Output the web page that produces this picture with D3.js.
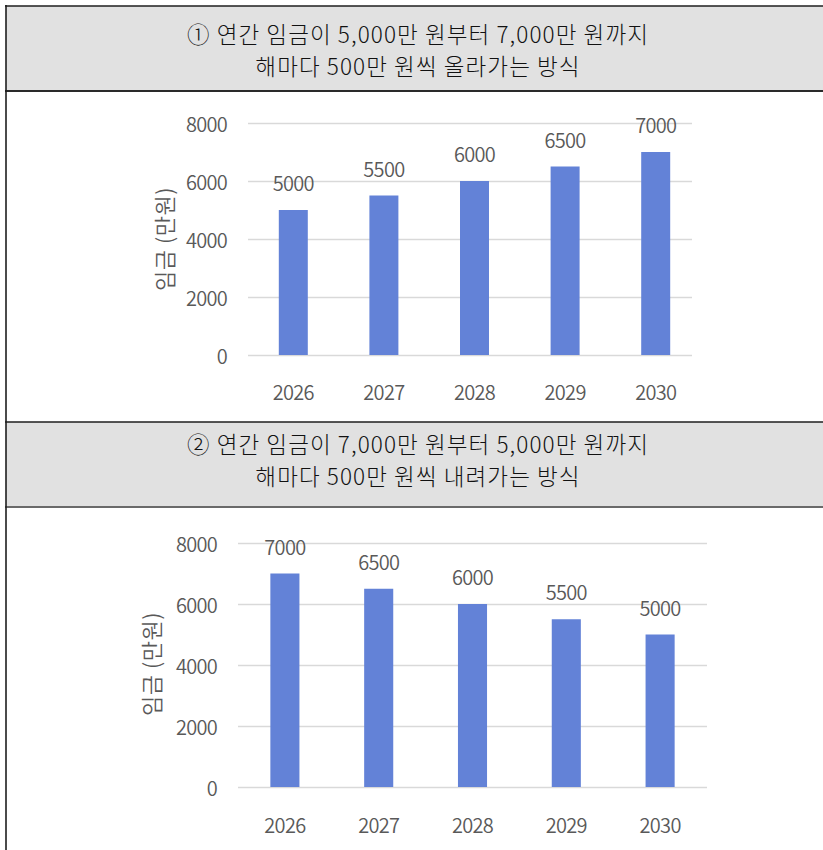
<!DOCTYPE html>
<html>
<head>
<meta charset="utf-8">
<script src="https://cdn.jsdelivr.net/npm/d3@7"></script>
<style>
  html, body { margin: 0; padding: 0; background: #fff; }
  svg { display: block; }
</style>
</head>
<body>
<svg id="chart" width="823" height="850"></svg>
<script>
// ---- data ----
const years = ["2026", "2027", "2028", "2029", "2030"];
const wagesRising = [5000, 5500, 6000, 6500, 7000];
const wagesFalling = [7000, 6500, 6000, 5500, 5000];
const yTicks = [0, 2000, 4000, 6000, 8000];
const yMax = 8000;
const yAxisTitle = "임금 (만원)";
const title1 = ["① 연간 임금이 5,000만 원부터 7,000만 원까지", "해마다 500만 원씩 올라가는 방식"];
const title2 = ["② 연간 임금이 7,000만 원부터 5,000만 원까지", "해마다 500만 원씩 내려가는 방식"];

// ---- styles ----
const barColor = "#6382d7";
const gridColor = "#d9d9d9";
const textColor = "#595959";
const headFill = "#e1e1e1";
const chartFont = "'Noto Sans CJK KR', 'Noto Sans', sans-serif";

const svg = d3.select("#chart");

function header(y0, y1, lines, baselines, bottomStroke) {
  const g = svg.append("g");
  g.append("rect").attr("x", 6).attr("y", y0).attr("width", 823 - 6).attr("height", y1 - y0)
    .attr("fill", headFill);
  g.append("line").attr("x1", 5).attr("x2", 823).attr("y1", y0).attr("y2", y0)
    .attr("stroke", "#1e1e1e").attr("stroke-width", 1.6);
  g.append("line").attr("x1", 5).attr("x2", 823).attr("y1", y1).attr("y2", y1)
    .attr("stroke", bottomStroke).attr("stroke-width", 1.8);
  lines.forEach((t, i) => {
    g.append("text").attr("x", 418).attr("y", baselines[i])
      .attr("text-anchor", "middle")
      .attr("font-family", chartFont)
      .attr("font-size", 22.5)
      .attr("font-weight", 300)
      .attr("letter-spacing", "1.1px")
      .attr("fill", "#111")
      .text(t);
  });
}

function barChart(opts) {
  const { values, xr, gridX, yr, labelX, titleX, titleY, xLabelY, pad } = opts;
  const x = d3.scaleBand().domain(years).range(xr).paddingInner(pad).paddingOuter(pad / 2);
  const y = d3.scaleLinear().domain([0, yMax]).range(yr);
  const g = svg.append("g");

  // y axis with gridlines
  const yAxis = d3.axisLeft(y).tickValues(yTicks).tickFormat(d3.format("d"))
    .tickSizeInner(-(gridX[1] - gridX[0])).tickSizeOuter(0).tickPadding(gridX[0] - labelX);
  const ya = g.append("g").attr("transform", `translate(${gridX[0]},0)`).call(yAxis);
  ya.select(".domain").remove();
  ya.selectAll(".tick line").attr("stroke", gridColor).attr("stroke-width", 1.6);
  ya.selectAll(".tick text").attr("fill", textColor).attr("font-family", chartFont)
    .attr("font-size", 20).attr("font-weight", 350).attr("dy", "0.42em").attr("letter-spacing", "-0.7px");

  // x axis labels
  const xAxis = d3.axisBottom(x).tickSize(0).tickPadding(0);
  const xa = g.append("g").attr("transform", `translate(0,${xLabelY})`).call(xAxis);
  xa.select(".domain").remove();
  xa.selectAll(".tick text").attr("fill", textColor).attr("font-family", chartFont)
    .attr("font-size", 20).attr("font-weight", 350).attr("dy", 0).attr("y", 0).attr("letter-spacing", "-0.7px");

  // bars
  g.selectAll("rect.bar").data(values).join("rect").attr("class", "bar")
    .attr("x", (d, i) => x(years[i])).attr("width", x.bandwidth())
    .attr("y", d => y(d)).attr("height", d => y(0) - y(d))
    .attr("fill", barColor);

  // data labels
  g.selectAll("text.lbl").data(values).join("text").attr("class", "lbl")
    .attr("x", (d, i) => x(years[i]) + x.bandwidth() / 2)
    .attr("y", d => y(d) - 19)
    .attr("text-anchor", "middle")
    .attr("fill", textColor).attr("font-family", chartFont)
    .attr("font-size", 20).attr("font-weight", 350).attr("letter-spacing", "-0.7px")
    .text(d => d);

  // y axis title
  g.append("text")
    .attr("transform", `translate(${titleX},${titleY}) rotate(-90)`)
    .attr("text-anchor", "middle").attr("dy", "0.35em")
    .attr("fill", textColor).attr("font-family", chartFont)
    .attr("font-size", 22).attr("font-weight", 350).attr("letter-spacing", "0.5px")
    .text(yAxisTitle);
}

header(6, 91, title1, [43, 75], "#2a2a2a");
header(422, 507, title2, [453, 485], "#6a6a6a");

barChart({
  values: wagesRising, xr: [248, 701], gridX: [248, 692], yr: [355, 123],
  labelX: 227, titleX: 165.5, titleY: 239, xLabelY: 400, pad: 0.68
});

barChart({
  values: wagesFalling, xr: [238, 707], gridX: [238, 707], yr: [787, 543],
  labelX: 217, titleX: 152, titleY: 664, xLabelY: 833, pad: 0.69
});

// outer left border
svg.append("line").attr("x1", 6).attr("x2", 6).attr("y1", 5).attr("y2", 850)
  .attr("stroke", "#1e1e1e").attr("stroke-width", 1.6);
</script>
</body>
</html>
